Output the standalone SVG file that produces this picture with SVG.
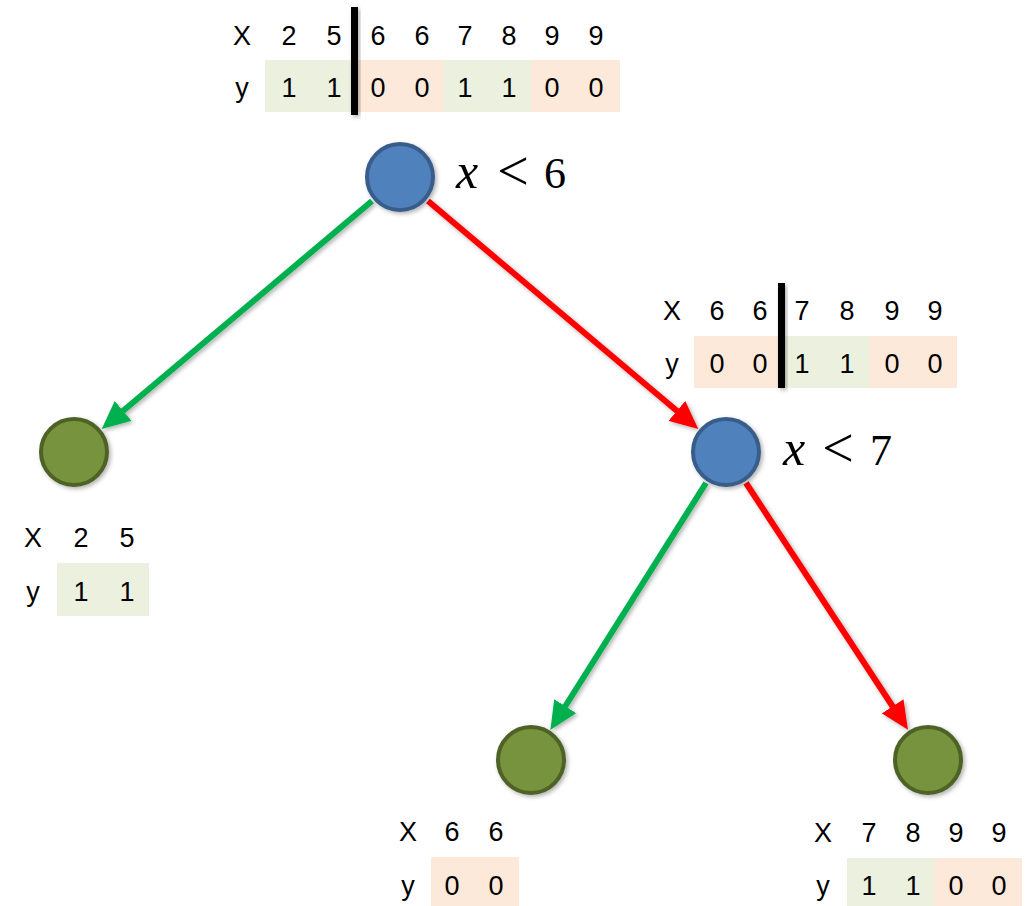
<svg xmlns="http://www.w3.org/2000/svg" width="1036" height="906" viewBox="0 0 1036 906">
<style>
.t{font-family:"Liberation Sans",Arial,sans-serif;font-size:27px;fill:#000;text-anchor:middle}
.m{font-family:"Liberation Serif","Times New Roman",serif;font-size:44px;fill:#000;text-anchor:middle}
.mi{font-style:italic;font-size:50px}
.lt{font-size:56px}
.g{fill:#ebf1de}
.p{fill:#fde9d9}
.bar{fill:#000;filter:url(#sh)}
.split{fill:#4f81bd;stroke:#385d8a;stroke-width:4;filter:url(#sh)}
.leaf{fill:#77933c;stroke:#4f6228;stroke-width:4;filter:url(#sh)}
.eg{stroke:#00b050;stroke-width:6;fill:none;marker-end:url(#ag);filter:url(#sh)}
.er{stroke:#ff0000;stroke-width:6;fill:none;marker-end:url(#ar);filter:url(#sh)}
</style>
<defs>
<filter id="sh" x="-30%" y="-30%" width="160%" height="160%">
<feDropShadow dx="2" dy="2" stdDeviation="2" flood-color="#000" flood-opacity="0.3"/>
</filter>
<marker id="ag" markerUnits="userSpaceOnUse" markerWidth="30" markerHeight="26" viewBox="0 0 30 26" refX="8" refY="13" orient="auto">
<path d="M0,0 L28,13 L0,26 Z" fill="#00b050"/>
</marker>
<marker id="ar" markerUnits="userSpaceOnUse" markerWidth="30" markerHeight="26" viewBox="0 0 30 26" refX="8" refY="13" orient="auto">
<path d="M0,0 L28,13 L0,26 Z" fill="#ff0000"/>
</marker>
</defs>

<g id="connectors">
<line class="eg" x1="372" y1="201" x2="117" y2="416"/>
<line class="er" x1="428" y1="201" x2="683" y2="416"/>
<line class="eg" x1="706" y1="483" x2="561" y2="713"/>
<line class="er" x1="746" y1="483" x2="897" y2="713"/>
</g>

<g id="table-root">
<rect class="g" x="265" y="60" width="90" height="52"/>
<rect class="p" x="355" y="60" width="89" height="52"/>
<rect class="g" x="444" y="60" width="87" height="52"/>
<rect class="p" x="531" y="60" width="89" height="52"/>
<text class="t" x="242" y="45">X</text>
<text class="t" x="289" y="45">2</text>
<text class="t" x="334" y="45">5</text>
<text class="t" x="378" y="45">6</text>
<text class="t" x="422" y="45">6</text>
<text class="t" x="465" y="45">7</text>
<text class="t" x="509" y="45">8</text>
<text class="t" x="552" y="45">9</text>
<text class="t" x="596" y="45">9</text>
<text class="t" x="242" y="97">y</text>
<text class="t" x="289" y="97">1</text>
<text class="t" x="334" y="97">1</text>
<text class="t" x="378" y="97">0</text>
<text class="t" x="422" y="97">0</text>
<text class="t" x="465" y="97">1</text>
<text class="t" x="509" y="97">1</text>
<text class="t" x="552" y="97">0</text>
<text class="t" x="596" y="97">0</text>
<rect class="bar" x="351" y="7" width="7" height="108"/>
</g>

<g id="node-root">
<circle class="split" cx="400" cy="177" r="33"/>
<text class="m mi" x="467" y="188">x</text>
<text class="m lt" x="513" y="190">&lt;</text>
<text class="m" x="555" y="188">6</text>
</g>

<g id="node-leaf-left">
<circle class="leaf" cx="74" cy="452" r="33"/>
</g>
<g id="table-left">
<rect class="g" x="57" y="563" width="92" height="53"/>
<text class="t" x="33" y="547">X</text>
<text class="t" x="81" y="547">2</text>
<text class="t" x="127" y="547">5</text>
<text class="t" x="33" y="601">y</text>
<text class="t" x="81" y="601">1</text>
<text class="t" x="127" y="601">1</text>
</g>

<g id="table-mid">
<rect class="p" x="694" y="336" width="88" height="52"/>
<rect class="g" x="782" y="336" width="87" height="52"/>
<rect class="p" x="869" y="336" width="88" height="52"/>
<text class="t" x="672" y="320">X</text>
<text class="t" x="717" y="320">6</text>
<text class="t" x="760" y="320">6</text>
<text class="t" x="802" y="320">7</text>
<text class="t" x="847" y="320">8</text>
<text class="t" x="892" y="320">9</text>
<text class="t" x="935" y="320">9</text>
<text class="t" x="672" y="373">y</text>
<text class="t" x="717" y="373">0</text>
<text class="t" x="760" y="373">0</text>
<text class="t" x="802" y="373">1</text>
<text class="t" x="847" y="373">1</text>
<text class="t" x="892" y="373">0</text>
<text class="t" x="935" y="373">0</text>
<rect class="bar" x="778" y="283" width="7" height="105"/>
</g>

<g id="node-mid">
<circle class="split" cx="726" cy="452" r="33"/>
<text class="m mi" x="794" y="465">x</text>
<text class="m lt" x="838" y="467">&lt;</text>
<text class="m" x="881" y="465">7</text>
</g>

<g id="node-leaf-bl">
<circle class="leaf" cx="531" cy="760" r="33"/>
</g>
<g id="table-bl">
<rect class="p" x="431" y="857" width="88" height="49"/>
<text class="t" x="408" y="841">X</text>
<text class="t" x="452" y="841">6</text>
<text class="t" x="496" y="841">6</text>
<text class="t" x="408" y="895">y</text>
<text class="t" x="452" y="895">0</text>
<text class="t" x="496" y="895">0</text>
</g>

<g id="node-leaf-br">
<circle class="leaf" cx="928" cy="760" r="33"/>
</g>
<g id="table-br">
<rect class="g" x="847" y="858" width="87" height="48"/>
<rect class="p" x="934" y="858" width="88" height="48"/>
<text class="t" x="823" y="842">X</text>
<text class="t" x="869" y="842">7</text>
<text class="t" x="913" y="842">8</text>
<text class="t" x="956" y="842">9</text>
<text class="t" x="999" y="842">9</text>
<text class="t" x="823" y="895">y</text>
<text class="t" x="869" y="895">1</text>
<text class="t" x="913" y="895">1</text>
<text class="t" x="956" y="895">0</text>
<text class="t" x="999" y="895">0</text>
</g>
</svg>
